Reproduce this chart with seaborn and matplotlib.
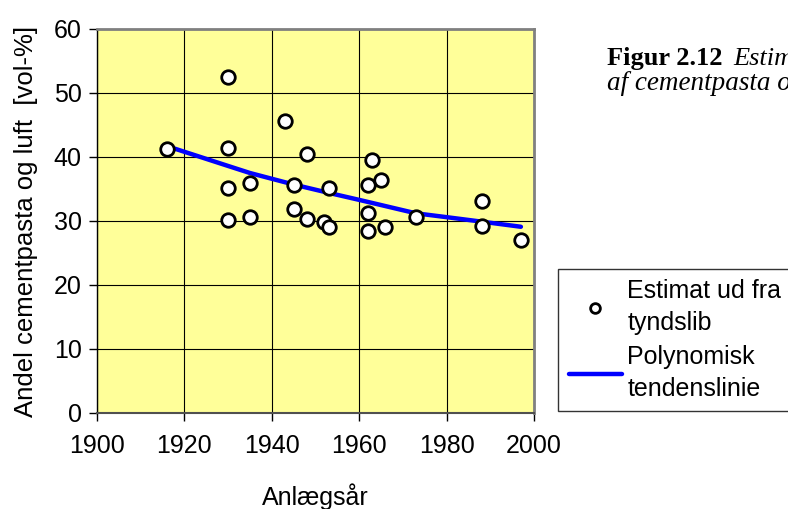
import numpy as np
import matplotlib
matplotlib.use("Agg")
import matplotlib.pyplot as plt
from matplotlib.lines import Line2D
import seaborn as sns

# Data
aar = [1916, 1930, 1930, 1930, 1930, 1935, 1935, 1943, 1948, 1945, 1945, 1948,
       1953, 1952, 1953, 1962, 1963, 1965, 1962, 1962, 1966, 1973, 1988, 1988, 1997]
andel = [41.3, 52.5, 41.4, 35.2, 30.2, 36.0, 30.7, 45.6, 40.4, 35.7, 31.9, 30.3,
         35.1, 29.9, 29.1, 35.6, 39.6, 36.4, 31.3, 28.5, 29.1, 30.7, 33.2, 29.2, 27.0]

# Tendenslinie (aflaest fra figuren)
trend_aar = [1916, 1930, 1935, 1945, 1953, 1960, 1973, 1980, 1988, 1997]
trend_andel = [41.7, 38.6, 37.5, 35.7, 34.4, 33.3, 31.2, 30.6, 29.9, 29.1]

sns.set_style("white")
plt.rcParams['font.family'] = ['Liberation Sans', 'DejaVu Sans']
plt.rcParams['text.color'] = 'black'
plt.rcParams['axes.labelcolor'] = 'black'
plt.rcParams['xtick.color'] = 'black'
plt.rcParams['ytick.color'] = 'black'

fig = plt.figure(figsize=(7.88, 5.09), dpi=100)
ax = fig.add_axes([97 / 788, 96 / 509, 437 / 788, 384 / 509])
ax.set_facecolor("#FFFF99")

sns.lineplot(x=trend_aar, y=trend_andel, ax=ax, color="#0000FF", linewidth=3.2,
             zorder=3, legend=False)
sns.scatterplot(x=aar, y=andel, ax=ax, s=95, facecolor="white", edgecolor="black",
                linewidth=2, zorder=4, legend=False)

ax.set_xlim(1900, 2000)
ax.set_ylim(0, 60)
ax.set_xticks(range(1900, 2001, 20))
ax.set_yticks(range(0, 61, 10))
ax.grid(True, color="black", linewidth=0.8)
ax.set_axisbelow(True)
for side in ["top", "right"]:
    ax.spines[side].set_color("#808080")
    ax.spines[side].set_linewidth(2)
ax.spines["bottom"].set_color("#505050")
ax.spines["bottom"].set_linewidth(1.5)
ax.spines["left"].set_color("black")
ax.spines["left"].set_linewidth(1)
ax.tick_params(axis="both", direction="out", length=6, width=1, color="black",
               labelsize=18, left=True, bottom=True)
ax.tick_params(axis="x", pad=9)
ax.tick_params(axis="y", pad=5)
ax.set_xlabel("Anlægsår", fontsize=18, labelpad=18)
ax.set_ylabel("Andel cementpasta og luft  [vol-%]", fontsize=18.5, labelpad=11)

# Legend
h_pts = Line2D([], [], marker="o", linestyle="none", markersize=7,
               markerfacecolor="white", markeredgecolor="black", markeredgewidth=2)
h_line = Line2D([], [], color="#0000FF", linewidth=3.2)
leg = fig.legend([h_pts, h_line], ["Estimat ud fra\ntyndslib", "Polynomisk\ntendenslinie"],
                 loc="upper left", bbox_to_anchor=(558 / 788, 1 - 269 / 509),
                 fontsize=18, frameon=True, fancybox=False, handlelength=2.15,
                 handletextpad=0.2, borderpad=0.42, labelspacing=0.4,
                 borderaxespad=0)
leg.get_frame().set_edgecolor("black")
leg.get_frame().set_linewidth(1)
for t in leg.get_texts():
    t.set_linespacing(1.4)

# Figurtekst (beskaaret af kanten)
fig.text(607 / 788, 1 - 65 / 509, "Figur 2.12", fontsize=19, fontweight="bold",
         family="Liberation Serif", va="baseline")
fig.text(733 / 788, 1 - 65 / 509, "Estimeret", fontsize=19, style="italic",
         family="Liberation Serif", va="baseline")
fig.text(607 / 788, 1 - 90 / 509, "af cementpasta og", fontsize=19.5, style="italic",
         family="Liberation Serif", va="baseline")

fig.savefig("out.png", dpi=100)
